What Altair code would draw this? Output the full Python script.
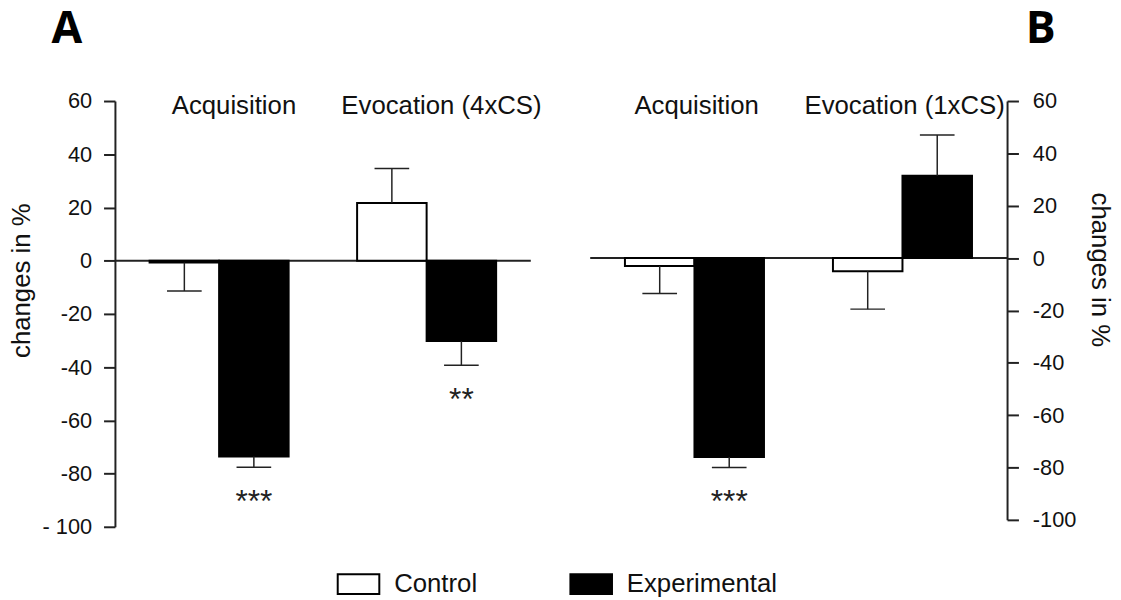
import altair as alt
import pandas as pd

groups = ["Control", "Experimental"]
conditions_A = ["Acquisition", "Evocation (4xCS)"]
conditions_B = ["Acquisition", "Evocation (1xCS)"]
means_A = [-0.7, -73.6, 21.7, -30.2]
errors_A = [10.7, 4.0, 12.9, 9.1]
stars_A = ["", "***", "", "**"]
means_B = [-3.0, -76.0, -5.0, 31.5]
errors_B = [10.5, 4.0, 14.5, 15.5]
stars_B = ["", "***", "", ""]
y_ticks = [60, 40, 20, 0, -20, -40, -60, -80, -100]

FONT = "Liberation Sans"
LINE = "#222222"


def make_df(conds, means, errs, stars):
    rows = []
    for i, (m, e, s) in enumerate(zip(means, errs, stars)):
        end = m - e if m < 0 else m + e
        rows.append({
            "condition": conds[i // 2],
            "group": groups[i % 2],
            "mean": m,
            "err_end": end,
            "star": s,
            "star_y": end - 10,
        })
    return pd.DataFrame(rows)


def panel(conds, means, errs, stars, orient, letter, letter_dx, width, height,
          label_dx, title_y, title_pad, label_pad, label_expr, show_legend):
    df = make_df(conds, means, errs, stars)
    x = alt.X("condition:N", sort=conds, axis=None,
              scale=alt.Scale(paddingInner=0.33, paddingOuter=0.167))
    xo = alt.XOffset("group:N", sort=groups,
                     scale=alt.Scale(paddingInner=0, paddingOuter=0))
    yscale = alt.Scale(domain=[-100, 60], nice=False, zero=False)
    yaxis = alt.Axis(
        orient=orient, values=y_ticks, grid=False, tickSize=11.5,
        tickWidth=2, tickColor=LINE, domainColor=LINE, domainWidth=2,
        labelFont=FONT, labelFontSize=22, labelColor="#111111",
        labelPadding=label_pad,
        labelExpr=label_expr,
        title="changes in %", titleFont=FONT, titleFontSize=26,
        titleFontWeight="normal", titleColor="#111111",
        titlePadding=title_pad, titleY=title_y,
    )
    if show_legend:
        legend = alt.Legend(
            title=None, orient="none", legendX=224, legendY=466,
            direction="horizontal",
            symbolType="M-1,-0.476H1V0.476H-1Z", symbolSize=1764,
            symbolStrokeColor="black", symbolStrokeWidth=2,
            symbolOpacity=1,
            labelFont=FONT, labelFontSize=26, labelColor="#111111",
            labelOffset=14, columnPadding=90,
        )
    else:
        legend = None

    base = alt.Chart(df)
    zero = alt.Chart(pd.DataFrame({"z": [0]})).mark_rule(
        color=LINE, strokeWidth=2).encode(
        y=alt.Y("z:Q", scale=yscale, axis=yaxis))
    bars = base.mark_bar(stroke="black", strokeWidth=2, opacity=1).encode(
        x=x, xOffset=xo,
        y=alt.Y("mean:Q", scale=yscale, axis=yaxis),
        y2=alt.datum(0),
        fill=alt.Fill("group:N", sort=groups,
                      scale=alt.Scale(domain=groups, range=["white", "black"]),
                      legend=legend),
    )
    err_rule = base.mark_rule(color=LINE, strokeWidth=1.5).encode(
        x=x, xOffset=xo, y="mean:Q", y2="err_end:Q")
    caps = base.mark_tick(color=LINE, thickness=1.5, size=35, opacity=1).encode(
        x=x, xOffset=xo, y="err_end:Q")
    sig = base.mark_text(font=FONT, fontSize=32, baseline="alphabetic",
                         dy=18, color="#222222").encode(
        x=x, xOffset=xo, y="star_y:Q", text="star:N")
    labels = alt.Chart(pd.DataFrame({"condition": conds})).mark_text(
        font=FONT, fontSize=26, baseline="alphabetic", dx=label_dx,
        color="#111111").encode(
        x=alt.X("condition:N", sort=conds, axis=None,
                scale=alt.Scale(paddingInner=0.33, paddingOuter=0.167)),
        y=alt.value(13), text="condition:N")

    return alt.layer(zero, bars, err_rule, caps, sig, labels).properties(
        width=width, height=height,
        title=alt.TitleParams(letter, anchor="start", frame="group",
                              dx=letter_dx, fontSize=45, font="Open Sans",
                              fontWeight="bold", color="black",
                              baseline="alphabetic", offset=3),
    )


panel_a = panel(conditions_A, means_A, errors_A, stars_A, "left", "A", -64,
                420, 430, 15, 181, 8, 12,
                "datum.value == -100 ? '- 100' : '' + datum.value", True)
panel_b = panel(conditions_B, means_B, errors_B, stars_B, "right", "B", 440,
                421, 423, 2, 170, 11, 14, "'' + datum.value", False)

chart = alt.hconcat(panel_a, panel_b, spacing=60, bounds="flush").resolve_scale(
    fill="independent", y="independent").properties(
    padding={"left": 0, "top": -4, "right": 0, "bottom": 0},
    background="white",
).configure_view(stroke=None, strokeWidth=0)

chart.save("out.html", embed_options={"renderer": "svg", "actions": False})
